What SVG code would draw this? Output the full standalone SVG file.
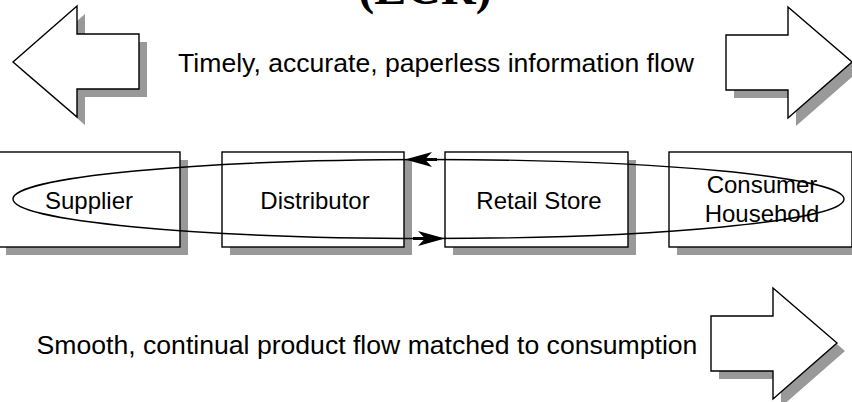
<svg xmlns="http://www.w3.org/2000/svg" width="852" height="402" viewBox="0 0 852 402">
  <style>
    .shadow { fill: #999999; stroke: none; }
    .shape { fill: #ffffff; stroke: #000000; stroke-width: 1.4; }
    .label { font-family: "Liberation Sans", Arial, sans-serif; font-size: 24px; fill: #000000; text-anchor: middle; }
    .caption { font-family: "Liberation Sans", Arial, sans-serif; font-size: 26.6px; fill: #000000; text-anchor: middle; }
    .title { font-family: "Liberation Serif", "Times New Roman", serif; font-size: 48px; font-weight: bold; fill: #000000; text-anchor: middle; }
    .loop { fill: none; stroke: #000000; stroke-width: 1.4; }
    .head { fill: #000000; stroke: none; }
    .tail { stroke: #000000; stroke-width: 3; }
  </style>
  <defs>
    <!-- block arrow pointing right, tip at origin -->
    <polygon id="block-right" points="0,0 -64,-55 -64,-27 -126,-27 -126,28 -64,28 -64,56"/>
    <!-- barbed arrowhead pointing right, tip at origin -->
    <g id="barb">
      <line class="tail" x1="-20" y1="0" x2="-32" y2="0"/>
      <path class="head" d="M0,0 L-27,-7.5 L-20,0 L-27,7.5 Z"/>
    </g>
  </defs>

  <rect width="852" height="402" fill="#ffffff"/>

  <!-- heading, cut by the top edge -->
  <text class="title" x="425" y="4">(ECR)</text>

  <!-- information flow: two block arrows and caption -->
  <g id="info-flow-left">
    <use href="#block-right" class="shadow" transform="translate(21,70) rotate(180)"/>
    <use href="#block-right" class="shape" transform="translate(13,62) rotate(180)"/>
  </g>
  <g id="info-flow-right">
    <use href="#block-right" class="shadow" transform="translate(860,70)"/>
    <use href="#block-right" class="shape" transform="translate(852,62)"/>
  </g>
  <text id="info-caption" class="caption" x="436" y="72">Timely, accurate, paperless information flow</text>

  <!-- supply chain members -->
  <g id="supplier">
    <rect class="shadow" x="6" y="160" width="182" height="95"/>
    <rect class="shape" x="-2" y="152" width="182" height="95"/>
    <text class="label" x="89" y="209">Supplier</text>
  </g>
  <g id="distributor">
    <rect class="shadow" x="230" y="160" width="182" height="95"/>
    <rect class="shape" x="222" y="152" width="182" height="95"/>
    <text class="label" x="315" y="209">Distributor</text>
  </g>
  <g id="retail-store">
    <rect class="shadow" x="453" y="160" width="183" height="95"/>
    <rect class="shape" x="445" y="152" width="183" height="95"/>
    <text class="label" x="539" y="209">Retail Store</text>
  </g>
  <g id="consumer-household">
    <rect class="shadow" x="677" y="160" width="183" height="95"/>
    <rect class="shape" x="669" y="152" width="183" height="95"/>
    <text class="label" x="762" y="193">Consumer</text>
    <text class="label" x="762" y="222">Household</text>
  </g>

  <!-- connectors: the loop through all members with its two arrowheads -->
  <g id="connectors">
    <ellipse class="loop" cx="428.5" cy="199" rx="415.5" ry="39.5"/>
    <use href="#barb" transform="translate(405,159.5) rotate(180)"/>
    <use href="#barb" transform="translate(445,238.5)"/>
  </g>

  <!-- product flow: block arrow and caption -->
  <g id="product-flow">
    <use href="#block-right" class="shadow" transform="translate(845,351)"/>
    <use href="#block-right" class="shape" transform="translate(837,343)"/>
  </g>
  <text id="product-caption" class="caption" x="367" y="354">Smooth, continual product flow matched to consumption</text>
</svg>
